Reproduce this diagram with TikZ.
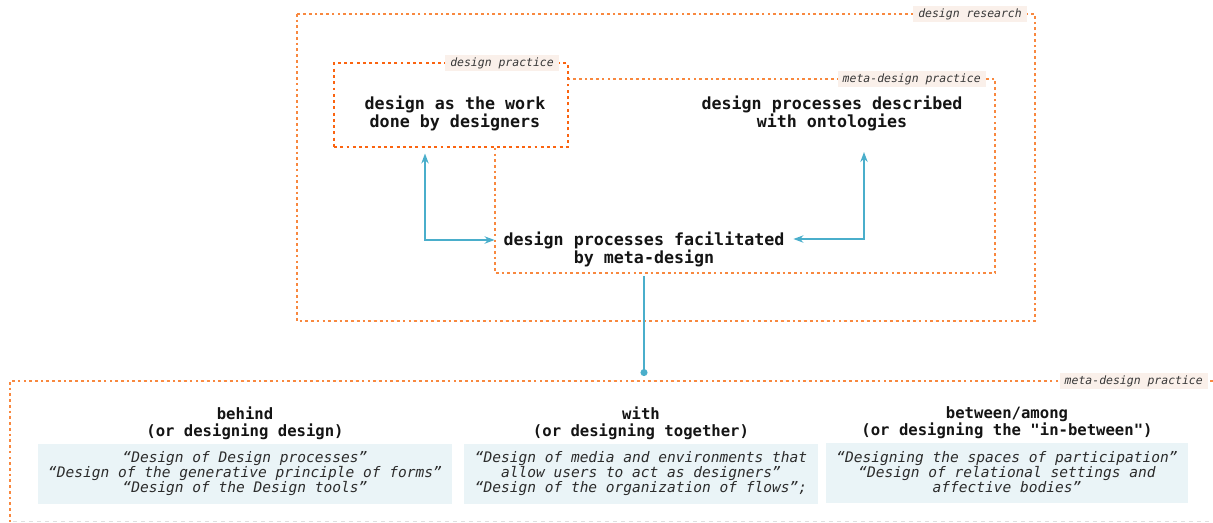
\documentclass[tikz,border=0pt]{standalone}
\usepackage{fontspec}
\setmonofont{DejaVu Sans Mono}[BoldFont={DejaVu Sans Mono Bold},ItalicFont={DejaVu Sans Mono Oblique}]
\usepackage{tikz}
\usetikzlibrary{arrows.meta,positioning,calc}
\definecolor{dotorange}{HTML}{F8883F}
\definecolor{deeporange}{HTML}{FB6410}
\definecolor{linkblue}{HTML}{4AAECB}
\definecolor{tagfill}{HTML}{FAF0EA}
\definecolor{quotefill}{HTML}{EAF4F7}
\definecolor{ink}{HTML}{141414}

\begin{document}
\begin{tikzpicture}[x=0.75pt,y=-0.75pt,
  frame/.style={draw=dotorange,line width=2pt,dash pattern=on 2pt off 2.3pt},
  pframe/.style={draw=deeporange,line width=2.2pt,dash pattern=on 2.2pt off 2.5pt,fill=white},
  tag/.style={fill=tagfill,text=ink!85,font=\ttfamily\itshape\fontsize{8.6}{10}\selectfont,inner xsep=3.7pt,inner ysep=2pt,anchor=east},
  title/.style={align=center,text=ink,inner sep=6.5pt,font=\ttfamily\bfseries\fontsize{12.5}{12.75}\selectfont},
  head/.style={align=center,text=ink,inner sep=1pt,font=\ttfamily\bfseries\fontsize{11.7}{12.75}\selectfont},
  quote/.style={fill=quotefill,align=center,text=ink!90,minimum height=45pt,font=\ttfamily\itshape\fontsize{10.9}{11.25}\selectfont},
  link/.style={draw=linkblue,line width=1.4pt},
  >={Stealth[length=7.5pt,width=5.5pt]}]
  \useasboundingbox (0,0) rectangle (1213,522);

  % upper part: research, meta-design and practice frames
  \draw[frame] (297,14) rectangle (1035,321);
  \draw[frame] (495,79) rectangle (995,273);
  \node[pframe,minimum width=175.5pt,minimum height=63pt] (practice) at (451,105) {};
  \node[tag] (researchtag) at (1027,14) {design research};
  \node[tag] (metatag) at (986,79) {meta-design practice};
  \node[tag] (practicetag) at (559,63) {design practice};

  \node[title] (work) at (455,113.5) {design as the work\\done by designers};
  \node[title] (onto) at (832,113.5) {design processes described\\with ontologies};
  \node[title] (facil) at (644,249.5) {design processes facilitated\\by meta-design};
  \coordinate (ontotip) at (864,152);
  \coordinate (hub) at (644,376);

  \draw[link,<->] ($(practice.south)+(-26,5)$) |- ($(facil.west)+(0,-9.5)$);
  \draw[link,<->] (ontotip) |- ($(facil.east)+(0,-10.5)$);
  \draw[link,-{Circle[length=5.2pt]}] (facil.south) -- (hub);

  % lower part: three ways of meta-design
  \draw[frame] (1213,381) -- (10,381) -- (10,522);
  \draw[gray!25,dashed,line width=0.6pt] (13,521) -- (1213,521);
  \node[tag] (lowtag) at (1208,381) {meta-design practice};

  \node[quote,minimum width=310.5pt] (q1) at (245,474) {“Design of Design processes”\\“Design of the generative principle of forms”\\“Design of the Design tools”};
  \node[quote,minimum width=265.5pt] (q2) at (641,474) {“Design of media and environments that\\allow users to act as designers”\\“Design of the organization of flows”;};
  \node[quote,minimum width=271.5pt] (q3) at (1007,472.5) {“Designing the spaces of participation”\\“Design of relational settings and\\affective bodies”};
  \node[head,above=1.5pt of q1] (behind) {behind\\(or designing design)};
  \node[head,above=1.5pt of q2] (with) {with\\(or designing together)};
  \node[head,above=1.5pt of q3] (among) {between/among\\(or designing the "in-between")};
\end{tikzpicture}
\end{document}
